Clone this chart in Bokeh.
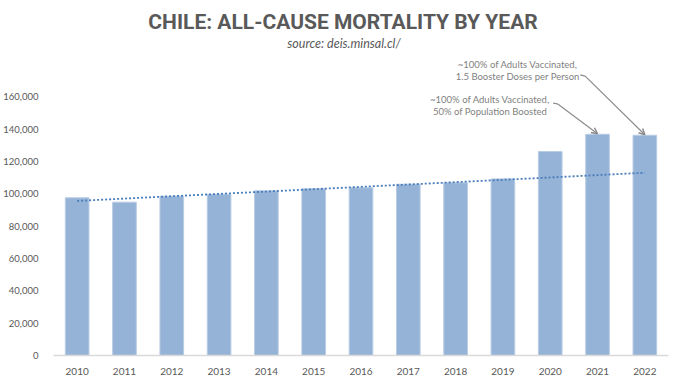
import numpy as np
from bokeh.plotting import figure
from bokeh.models import Label, Arrow, OpenHead, FixedTicker, NumeralTickFormatter, Range1d
from bokeh.embed import file_html
from bokeh.resources import INLINE

# ---- data ----
years = ["2010", "2011", "2012", "2013", "2014", "2015", "2016",
         "2017", "2018", "2019", "2020", "2021", "2022"]
deaths = [97500, 94800, 98500, 99700, 101800, 103100, 103700,
          105900, 106800, 109200, 126100, 136800, 136200]
y_ticks = [0, 20000, 40000, 60000, 80000, 100000, 120000, 140000, 160000]
title_text = "CHILE: ALL-CAUSE MORTALITY BY YEAR"
subtitle_text = "source: deis.minsal.cl/"
note_2022 = ["~100% of Adults Vaccinated,", "1.5 Booster Doses per Person"]
note_2021 = ["~100% of Adults Vaccinated,", "50% of Population Boosted"]
trend_fit_years = 10  # linear trend fitted on 2010-2019, extended to 2022

x = np.arange(len(years))
coef = np.polyfit(x[:trend_fit_years], np.array(deaths[:trend_fit_years], float), 1)
trend = np.polyval(coef, x)

GRAY = "#595959"
NOTE = "#7f7f7f"
FONT = "Lato"

p = figure(width=680, height=381, output_backend="svg", toolbar_location=None,
           x_range=Range1d(-0.5, len(years) - 0.5), y_range=Range1d(0, 219500),
           min_border_left=48, min_border_right=12, min_border_top=0, min_border_bottom=26)
p.outline_line_color = None
p.background_fill_color = "white"
p.grid.visible = False

p.vbar(x=x, top=deaths, width=0.5, fill_color="#95B3D7", line_color="#b8cce4", line_width=1)
p.line(x, trend, line_color="#4a7ebb", line_width=1.8, line_dash="2 2")

# axes
p.xaxis.ticker = FixedTicker(ticks=list(x))
p.xaxis.major_label_overrides = {int(i): y for i, y in zip(x, years)}
p.xaxis.major_tick_line_color = None
p.xaxis.minor_tick_line_color = None
p.xaxis.axis_line_color = "#d9d9d9"
p.xaxis.axis_line_width = 1.5
p.xaxis.major_label_text_font = FONT
p.xaxis.major_label_text_font_size = "10px"
p.xaxis.major_label_text_color = GRAY
p.xaxis.major_label_standoff = 6

p.yaxis.ticker = FixedTicker(ticks=y_ticks)
p.yaxis.formatter = NumeralTickFormatter(format="0,0")
p.yaxis.major_tick_line_color = None
p.yaxis.minor_tick_line_color = None
p.yaxis.axis_line_color = None
p.yaxis.major_label_text_font = FONT
p.yaxis.major_label_text_font_size = "9.5px"
p.yaxis.major_label_text_color = GRAY
p.yaxis.major_label_standoff = 9

# titles
p.add_layout(Label(x=5.62, y=206100, text=title_text, text_align="center", text_baseline="middle",
                   text_font="Roboto", text_font_style="bold",
                   text_font_size="21px", text_color=GRAY))
p.add_layout(Label(x=5.64, y=193200, text=subtitle_text, text_align="center", text_baseline="middle",
                   text_font=FONT, text_font_style="italic", text_font_size="12.5px", text_color=GRAY))

# annotations
for line, yy in zip(note_2022, [179700, 172700]):
    p.add_layout(Label(x=9.313, y=yy, text=line, text_align="center", text_baseline="middle",
                       text_font=FONT, text_font_size="9.5px", text_color=NOTE))
for line, yy in zip(note_2021, [158500, 150900]):
    p.add_layout(Label(x=8.726, y=yy, text=line, text_align="center", text_baseline="middle",
                       text_font=FONT, text_font_size="9.5px", text_color=NOTE))

ARROW = "#8c8c8c"
p.line([10.634, 10.739], [173500, 172700], line_color=ARROW, line_width=1.2)
p.add_layout(Arrow(x_start=10.739, y_start=172700, x_end=x[12], y_end=deaths[12] + 300,
                   line_color=ARROW, line_width=1.2,
                   end=OpenHead(size=6, line_color=ARROW, line_width=1.5)))
p.line([10.062, 10.152], [156000, 155600], line_color=ARROW, line_width=1.2)
p.add_layout(Arrow(x_start=10.152, y_start=155600, x_end=x[11], y_end=deaths[11] + 300,
                   line_color=ARROW, line_width=1.2,
                   end=OpenHead(size=6, line_color=ARROW, line_width=1.5)))

open("out.html", "w").write(file_html(p, INLINE))
